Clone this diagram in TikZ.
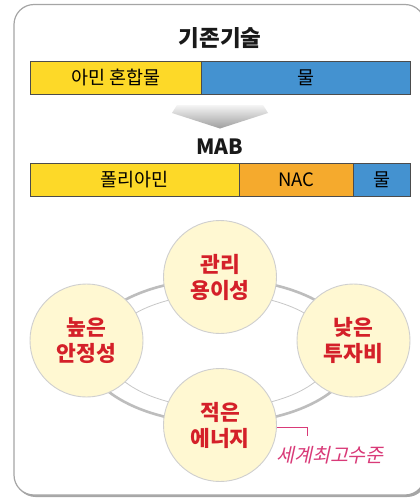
\documentclass[tikz,border=0pt]{standalone}
\usepackage{fontspec}
\setmainfont{Noto Sans CJK KR}
\newfontfamily\slantfont[FakeSlant=0.22]{Noto Sans CJK KR}
\definecolor{byellow}{HTML}{FDD928}
\definecolor{bblue}{HTML}{4492D0}
\definecolor{borange}{HTML}{F5AA2D}
\definecolor{cfill}{HTML}{FFF8D2}
\definecolor{cdraw}{HTML}{CFCFCF}
\definecolor{tred}{HTML}{D42029}
\definecolor{tmag}{HTML}{D93A78}
\definecolor{ringc}{HTML}{BDBDBD}
\definecolor{framec}{HTML}{A5A5A5}
\tikzset{
  barpart/.style={draw=black!70, line width=0.8pt, inner sep=0pt, minimum height=33pt, anchor=west, font=\fontsize{18.5}{22}\selectfont},
  heading/.style={font=\fontsize{22.5}{26}\selectfont\bfseries, text=black!90},
  bubble/.style={circle, fill=cfill, draw=cdraw, line width=0.9pt, minimum size=113pt, inner sep=0pt, align=center, text=tred, font=\fontsize{21.5}{26}\selectfont\bfseries},
}
\begin{document}
\begin{tikzpicture}[x=1pt,y=-1pt]
\useasboundingbox (0,0) rectangle (420,498);
\clip (0,0) rectangle (420,498);
% frame with shadow
\fill[black!35, rounded corners=20pt] (15.5,6.5) rectangle (427,497);
\draw[framec, line width=1.2pt, fill=white, rounded corners=20pt] (14,4.5) rectangle (425,495);
% title
\node[heading] (title) at (220,38) {기존기술};
% bar 1
\node[barpart, fill=byellow, minimum width=170.7pt] (b1a) at (30,77.5) {아민 혼합물};
\node[barpart, fill=bblue, minimum width=209.3pt] (b1b) at (200.7,77.5) {물};
% arrow
\shade[top color=black!4, bottom color=black!38] (177,105) -- (263,105) -- (268,113) -- (220,128.5) -- (172,113) -- cycle;
% MAB
\node[heading, font=\fontsize{21}{24}\selectfont\bfseries] (mab) at (220,147) {MAB};
% bar 2
\node[barpart, fill=byellow, minimum width=209pt] (b2a) at (30,179.5) {폴리아민};
\node[barpart, fill=borange, minimum width=114pt] (b2b) at (239,179.5) {NAC};
\node[barpart, fill=bblue, minimum width=57pt] (b2c) at (353,179.5) {물};
% rings
\draw[ringc, line width=2.6pt] (220,351) ellipse [x radius=135, y radius=72];
\draw[ringc!85, line width=0.8pt] (220,351) ellipse [x radius=113, y radius=57];
% bubbles
\node[bubble] (c1) at (220,277) {관리\\용이성};
\node[bubble] (c2) at (86.5,340.5) {높은\\안정성};
\node[bubble] (c3) at (353.5,340.5) {낮은\\투자비};
\node[bubble] (c4) at (220,425) {적은\\에너지};
% leader
\coordinate (lead) at (307,436);
\draw[tmag, line width=0.8pt] (c4.-2) -| (lead);
\node[text=tmag, font=\fontsize{19.5}{22}\slantfont] (best) at (330,455) {세계최고수준};
\end{tikzpicture}
\end{document}
